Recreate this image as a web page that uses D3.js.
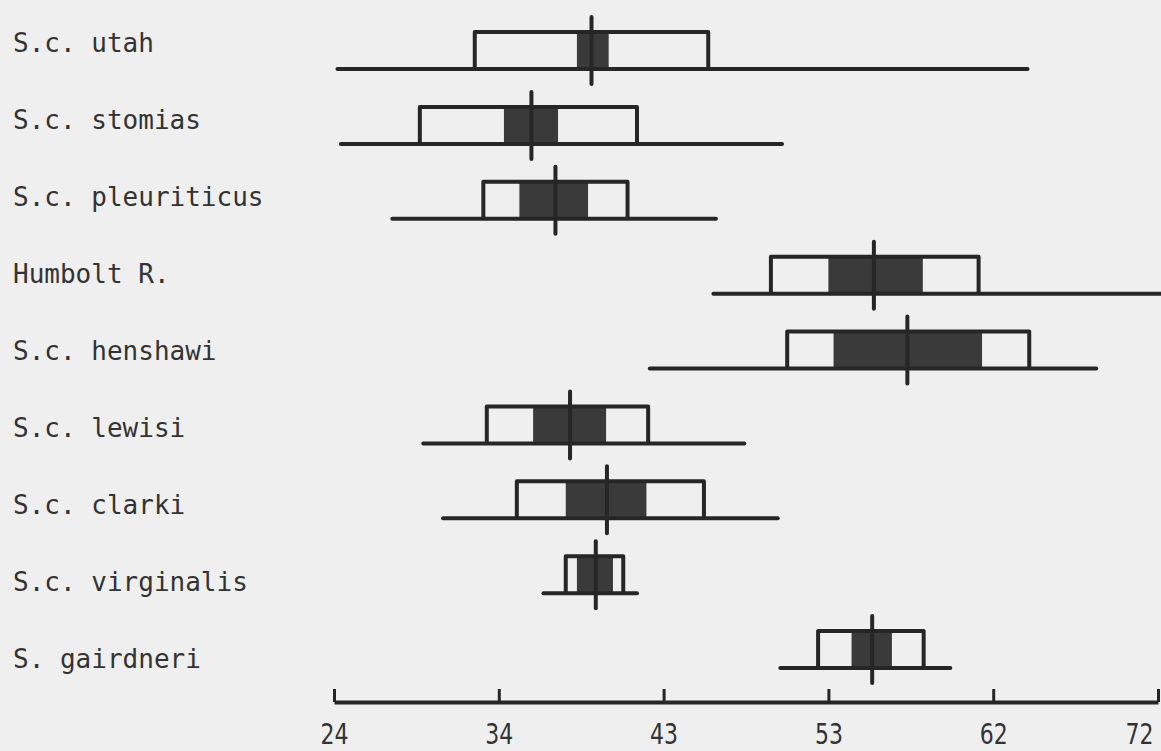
<!DOCTYPE html>
<html>
<head>
<meta charset="utf-8">
<script src="https://cdn.jsdelivr.net/npm/d3@7"></script>
<style>
  html, body { margin: 0; padding: 0; background: #efefef; }
  svg { display: block; }
</style>
</head>
<body>
<script>
// Hubbs diagram: range line, SD box, SE shaded, mean bar
const species = ['S.c. utah', 'S.c. stomias', 'S.c. pleuriticus', 'Humbolt R.', 'S.c. henshawi',
  'S.c. lewisi', 'S.c. clarki', 'S.c. virginalis', 'S. gairdneri']
const rangeMin = [24.2, 24.4, 27.4, 46.1, 42.4, 29.2, 30.35, 36.2, 50.0]
const sdLow    = [32.2, 29.0, 32.7, 49.45, 50.4, 32.9, 34.65, 37.5, 52.2]
const seLow    = [38.15, 33.9, 34.8, 52.8, 53.1, 35.6, 37.5, 38.15, 54.15]
const means    = [39.0, 35.5, 36.9, 55.45, 57.4, 37.75, 39.9, 39.25, 55.35]
const seHigh   = [40.0, 37.05, 38.8, 58.3, 61.75, 39.85, 42.2, 40.25, 56.5]
const sdHigh   = [45.8, 41.65, 41.1, 61.55, 64.5, 42.3, 45.55, 40.85, 58.35]
const rangeMax = [64.4, 50.1, 46.25, 72.3, 68.4, 47.9, 49.85, 41.65, 59.9]
const tickValues = [24, 33.6, 43.2, 52.8, 62.4, 72]
const tickLabels = ['24', '34', '43', '53', '62', '72']

const width = 1161
const height = 751
const ink = '#262626'

const rows = species.map(function (name, i) {
  return { name: name, min: rangeMin[i], sdL: sdLow[i], seL: seLow[i], mean: means[i],
    seH: seHigh[i], sdH: sdHigh[i], max: rangeMax[i] }
})

const x = d3.scaleLinear().domain([24, 72]).range([334, 1158])
const y = d3.scalePoint().domain(species).range([69, 668])       // range line of each row
const yLabel = d3.scalePoint().domain(species).range([52, 668])  // text baselines (typed a bit unevenly)

const boxH = 37

const svg = d3.select('body').append('svg')
  .attr('width', width)
  .attr('height', height)

// row labels
svg.append('g').selectAll('text')
  .data(rows)
  .enter()
  .append('text')
  .attr('x', 13)
  .attr('y', function (d) { return yLabel(d.name) })
  .attr('font-family', '"DejaVu Sans Mono", monospace')
  .attr('font-size', 26)
  .attr('fill', '#333')
  .text(function (d) { return d.name })

const g = svg.append('g').selectAll('g')
  .data(rows)
  .enter()
  .append('g')
  .attr('transform', function (d) { return 'translate(0,' + y(d.name) + ')' })

// SE shaded part
g.append('rect')
  .attr('x', function (d) { return x(d.seL) })
  .attr('y', -boxH)
  .attr('width', function (d) { return x(d.seH) - x(d.seL) })
  .attr('height', boxH)
  .attr('fill', '#3a3a3a')

// SD box (open at bottom: the range line closes it)
g.append('path')
  .attr('d', function (d) {
    return 'M' + x(d.sdL) + ',0V' + (-boxH) + 'H' + x(d.sdH) + 'V0'
  })
  .attr('fill', 'none')
  .attr('stroke', ink)
  .attr('stroke-width', 4)
  .attr('stroke-linejoin', 'round')

// range line
g.append('line')
  .attr('x1', function (d) { return x(d.min) })
  .attr('x2', function (d) { return x(d.max) })
  .attr('stroke', ink)
  .attr('stroke-width', 4)
  .attr('stroke-linecap', 'round')

// mean
g.append('line')
  .attr('x1', function (d) { return x(d.mean) })
  .attr('x2', function (d) { return x(d.mean) })
  .attr('y1', -boxH - 15)
  .attr('y2', 15)
  .attr('stroke', ink)
  .attr('stroke-width', 4)
  .attr('stroke-linecap', 'round')

// axis: ticks point up, numbers below
const axis = svg.append('g')
  .attr('transform', 'translate(0,702)')
  .call(d3.axisBottom(x)
    .tickValues(tickValues)
    .tickFormat(function (d, i) { return tickLabels[i] })
    .tickSizeInner(-13)
    .tickSizeOuter(0)
    .tickPadding(21))
axis.select('.domain').attr('stroke', ink).attr('stroke-width', 4)
axis.selectAll('.tick line').attr('stroke', ink).attr('stroke-width', 3)
axis.selectAll('.tick text')
  .attr('fill', '#333')
  .attr('font-family', '"DejaVu Sans", sans-serif')
  .attr('font-size', 29)
  .attr('textLength', 28)
  .attr('lengthAdjust', 'spacingAndGlyphs')
  // last number sits left of its tick, as typed
  .attr('text-anchor', function (d, i) { return i === tickValues.length - 1 ? 'end' : 'middle' })
  .attr('dx', function (d, i) { return i === tickValues.length - 1 ? -5 : 0 })
</script>
</body>
</html>
